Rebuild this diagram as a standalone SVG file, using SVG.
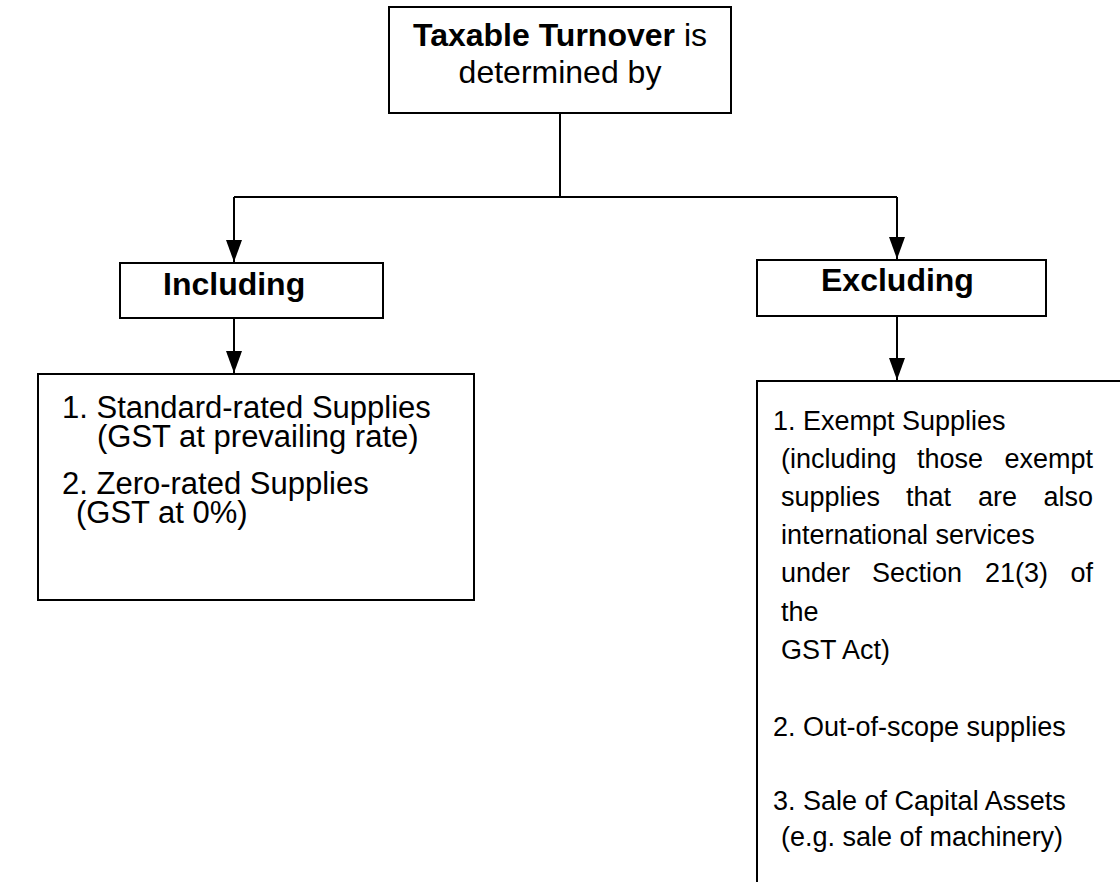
<svg xmlns="http://www.w3.org/2000/svg" width="1120" height="882" viewBox="0 0 1120 882">
<defs>
<marker id="arr" markerWidth="24" markerHeight="18" refX="22" refY="8" orient="auto" markerUnits="userSpaceOnUse" viewBox="0 0 24 16">
<path d="M0,0 L22,8 L0,16 Z" fill="#000"/>
</marker>
<style>
.box{fill:#fff;stroke:#000;stroke-width:2}
.ln{fill:none;stroke:#000;stroke-width:2}
.t{font-family:"Liberation Sans",Arial,sans-serif;font-size:32px;fill:#000}
.m{font-family:"Liberation Sans",Arial,sans-serif;font-size:31px;fill:#000}
.s{font-family:"Liberation Sans",Arial,sans-serif;font-size:27px;fill:#000}
.b{font-weight:bold}
</style>
</defs>
<rect width="1120" height="882" fill="#fff"/>
<g id="connectors">
<path class="ln" d="M560,113 V197 M234,197 H897"/>
<path class="ln" d="M234,197 V262" marker-end="url(#arr)"/>
<path class="ln" d="M897,197 V259" marker-end="url(#arr)"/>
<path class="ln" d="M234,318 V373" marker-end="url(#arr)"/>
<path class="ln" d="M897,316 V380" marker-end="url(#arr)"/>
</g>
<g id="top">
<rect class="box" x="389" y="7" width="342" height="106"/>
<text class="t" x="560" y="46" text-anchor="middle"><tspan class="b">Taxable Turnover</tspan> is</text>
<text class="t" x="560" y="83" text-anchor="middle">determined by</text>
</g>
<g id="including">
<rect class="box" x="120" y="263" width="263" height="55"/>
<text class="t b" x="163" y="295">Including</text>
</g>
<g id="excluding">
<rect class="box" x="757" y="260" width="289" height="56"/>
<text class="t b" x="821" y="291">Excluding</text>
</g>
<g id="including-list">
<rect class="box" x="38" y="374" width="436" height="226"/>
<text class="m" x="62" y="418">1. Standard-rated Supplies</text>
<text class="m" x="97" y="447">(GST at prevailing rate)</text>
<text class="m" x="62" y="494">2. Zero-rated Supplies</text>
<text class="m" x="76" y="523">(GST at 0%)</text>
</g>
<g id="excluding-list">
<path class="ln" d="M757,884 V381 H1122"/>
<text class="s" x="773" y="430">1. Exempt Supplies</text>
<text class="s" y="468"><tspan x="781">(including</tspan><tspan x="917">those</tspan><tspan x="1093" text-anchor="end">exempt</tspan></text>
<text class="s" y="506"><tspan x="781">supplies</tspan><tspan x="906">that</tspan><tspan x="978">are</tspan><tspan x="1093" text-anchor="end">also</tspan></text>
<text class="s" x="781" y="544">international services</text>
<text class="s" y="582"><tspan x="781">under</tspan><tspan x="872">Section</tspan><tspan x="985">21(3)</tspan><tspan x="1093" text-anchor="end">of</tspan></text>
<text class="s" x="781" y="621">the</text>
<text class="s" x="781" y="659">GST Act)</text>
<text class="s" x="773" y="736">2. Out-of-scope supplies</text>
<text class="s" x="773" y="810">3. Sale of Capital Assets</text>
<text class="s" x="781" y="846">(e.g. sale of machinery)</text>
</g>
</svg>
